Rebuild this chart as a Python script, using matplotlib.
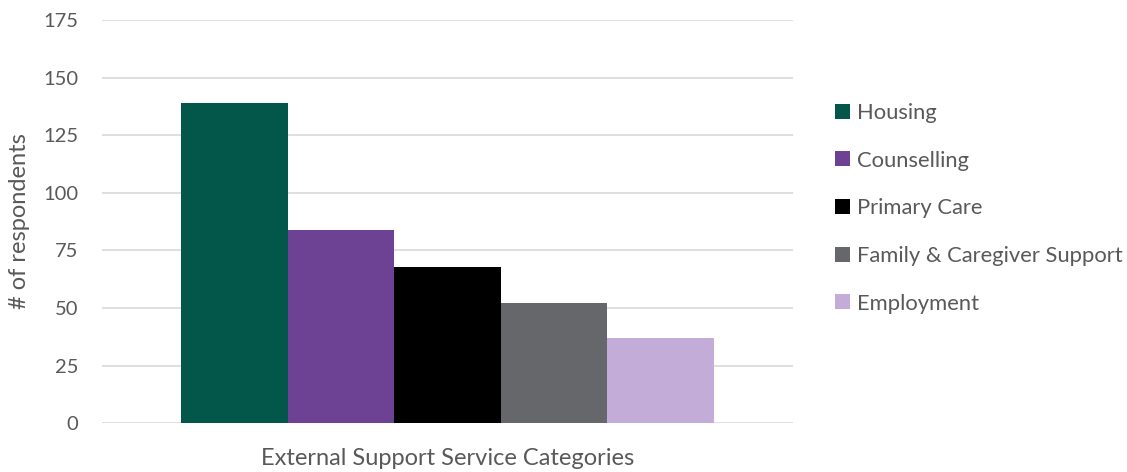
import matplotlib
matplotlib.use("Agg")
import matplotlib.pyplot as plt
from matplotlib.patches import Patch

categories = ["Housing", "Counselling", "Primary Care", "Family & Caregiver Support", "Employment"]
values = [139, 84, 68, 52, 37]
colors = ["#02574A", "#6D4194", "#000000", "#65676B", "#C3ACD8"]
yticks = [0, 25, 50, 75, 100, 125, 150, 175]

plt.rcParams['font.family'] = ['Lato', 'DejaVu Sans']
txt = "#595959"

fig = plt.figure(figsize=(11.27, 4.72), dpi=100)
ax = fig.add_axes([102/1127, 1-423.3/472, 691/1127, (423.3-20)/472])

xs = [i - (len(values)-1)/2 for i in range(len(values))]
ax.bar(xs, values, width=1.0, color=colors, zorder=3)
ax.set_xlim(-3.24, 3.24)
ax.set_ylim(0, 175)
ax.set_yticks(yticks)
ax.set_xticks([])
for s in ax.spines.values():
    s.set_visible(False)
ax.grid(axis='y', color='#d9d9d9', linewidth=1.2, zorder=0)
ax.tick_params(axis='y', length=0, pad=17, labelsize=14.5, labelcolor=txt)
fig.text(20/1127, 1-221/472, "# of respondents", rotation=90, ha='center', va='center',
         fontsize=17, color=txt)
ax.set_xlabel("External Support Service Categories", fontsize=17, color=txt, labelpad=18)

handles = [Patch(facecolor=c, edgecolor='none') for c in colors]
leg = fig.legend(handles, categories, loc='upper left', bbox_to_anchor=(835/1127, 1-103/472),
                 frameon=False, fontsize=15.8, labelspacing=1.26, handlelength=0.68,
                 handleheight=0.68, handletextpad=0.3, borderpad=0, borderaxespad=0)
for t in leg.get_texts():
    t.set_color(txt)

fig.savefig("out.png", dpi=100)
